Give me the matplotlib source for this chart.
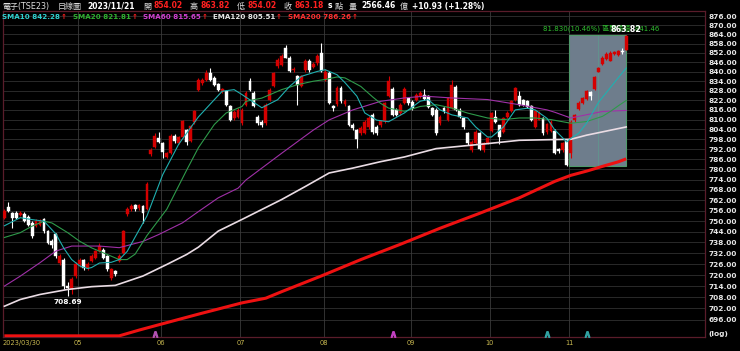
import numpy as np
import matplotlib.pyplot as plt
from matplotlib.patches import Rectangle
from matplotlib.ticker import FixedLocator, NullLocator, FixedFormatter

# daily candles 2023/03/30 .. 2023/11/21 (trading-day index)
opens = [752.0, 757.9, 754.8, 754.8, 753.8, 754.2, 752.6, 749.1, 747.2, 748.1,
         751.0, 744.3, 739.1, 742.5, 726.6, 728.5, 714.0, 712.2, 719.4, 725.8,
         728.1, 724.0, 727.7, 729.6, 733.1, 734.0, 730.3, 718.6, 722.2, 727.7,
         732.2, 754.1, 757.0, 759.0, 757.5, 758.5, 757.0, 789.3, 793.3, 798.6,
         795.6, 787.4, 789.6, 799.9, 795.8, 799.6, 803.6, 797.0, 808.4, 828.4,
         832.7, 834.8, 839.4, 836.0, 832.2, 827.7, 827.6, 818.1, 811.0, 811.8,
         808.0, 819.3, 833.8, 826.8, 811.8, 808.8, 807.8, 822.2, 830.7, 843.5,
         844.2, 855.2, 849.0, 840.8, 837.0, 831.2, 840.8, 846.9, 843.1, 845.2,
         851.7, 834.8, 839.3, 818.1, 819.4, 829.6, 819.4, 818.1, 806.9, 803.6,
         801.6, 801.6, 805.4, 812.9, 805.5, 806.4, 809.0, 824.5, 829.3, 816.0,
         814.0, 820.2, 823.2, 821.0, 822.2, 824.5, 825.5, 824.5, 817.0, 816.0,
         807.8, 817.0, 809.8, 817.0, 830.4, 816.0, 810.8, 801.6, 791.4, 795.5,
         801.6, 791.4, 795.5, 803.2, 811.8, 806.4, 802.6, 811.8, 815.0, 822.2,
         824.5, 822.2, 821.3, 818.1, 805.5, 810.0, 810.8, 802.2, 803.0, 803.0,
         792.3, 791.4, 797.0, 789.8, 809.6, 816.5, 820.2, 822.8, 827.0, 829.3,
         840.0, 845.0, 848.0, 847.0, 851.0, 850.5, 853.5, 854.02]
highs = [757.0, 760.8, 755.5, 756.0, 756.0, 755.0, 753.5, 750.0, 751.0, 751.5,
         752.0, 745.0, 740.0, 743.5, 731.5, 729.5, 716.0, 719.0, 727.0, 729.5,
         729.0, 727.0, 731.5, 734.0, 737.5, 735.0, 731.0, 724.0, 723.0, 731.5,
         745.0, 758.0, 760.0, 760.0, 760.0, 759.5, 772.5, 792.5, 802.0, 802.6,
         796.5, 790.5, 801.0, 801.0, 800.0, 810.0, 804.5, 807.0, 816.0, 836.0,
         836.0, 841.0, 842.0, 837.0, 833.0, 829.5, 828.5, 819.0, 816.0, 817.0,
         817.0, 828.0, 836.0, 827.5, 813.0, 810.0, 820.0, 829.5, 840.0, 848.5,
         851.5, 857.0, 850.0, 843.0, 838.0, 838.0, 848.0, 848.0, 846.0, 851.0,
         858.6, 841.5, 840.5, 819.0, 831.0, 831.0, 822.5, 819.0, 808.0, 804.5,
         806.0, 809.5, 812.0, 814.0, 806.5, 810.0, 821.0, 837.0, 830.0, 817.0,
         820.0, 830.0, 824.0, 822.0, 826.5, 827.5, 829.0, 825.0, 818.0, 817.0,
         813.0, 818.0, 824.0, 834.7, 831.5, 817.0, 811.5, 802.5, 797.5, 803.5,
         802.5, 796.5, 799.5, 814.5, 816.0, 807.0, 811.5, 815.0, 822.0, 830.5,
         827.6, 823.0, 822.0, 819.0, 816.0, 815.0, 811.5, 808.0, 809.5, 804.0,
         793.0, 796.5, 798.0, 810.0, 813.5, 821.5, 824.0, 828.5, 828.0, 837.5,
         843.0, 850.0, 852.5, 853.0, 853.5, 854.0, 855.0, 863.82]
lows = [751.0, 755.0, 746.4, 751.0, 753.0, 749.5, 747.0, 740.5, 746.5, 747.5,
        743.5, 737.0, 735.0, 729.5, 725.5, 712.3, 708.69, 709.5, 718.5, 724.5,
        723.0, 723.0, 727.0, 729.0, 732.5, 729.0, 722.0, 717.5, 719.5, 727.0,
        731.5, 753.0, 756.0, 756.0, 756.5, 749.0, 756.5, 788.0, 792.5, 795.5,
        786.6, 786.5, 789.0, 796.0, 795.0, 799.0, 794.3, 796.5, 807.5, 827.5,
        831.5, 834.0, 834.0, 831.0, 827.5, 826.5, 818.5, 809.0, 810.0, 811.0,
        807.0, 818.5, 828.0, 817.5, 806.5, 805.5, 807.0, 821.5, 830.0, 842.5,
        843.5, 848.5, 839.5, 839.5, 819.3, 830.5, 840.0, 840.0, 842.0, 844.5,
        839.5, 834.0, 819.5, 815.5, 818.5, 820.5, 818.5, 806.0, 803.5, 792.6,
        800.5, 801.0, 804.5, 801.5, 800.5, 805.5, 808.0, 824.0, 812.0, 812.0,
        813.0, 819.5, 819.0, 816.0, 821.5, 823.5, 822.0, 817.0, 812.0, 800.5,
        807.0, 814.0, 809.0, 816.5, 815.0, 811.0, 804.5, 794.5, 790.5, 795.0,
        791.5, 790.5, 795.0, 802.5, 808.0, 794.9, 802.0, 811.0, 814.5, 821.5,
        818.5, 818.5, 817.0, 809.0, 805.0, 809.5, 800.5, 801.5, 802.5, 789.0,
        790.0, 790.5, 781.99, 787.0, 808.5, 816.0, 819.5, 822.0, 822.0, 828.5,
        839.5, 844.5, 847.5, 846.5, 850.5, 850.0, 851.0, 854.02]
closes = [755.8, 755.8, 752.0, 752.0, 754.8, 750.3, 748.1, 741.5, 750.0, 750.0,
          744.3, 737.8, 736.4, 730.3, 730.3, 714.0, 712.8, 717.6, 725.8, 728.5,
          724.0, 725.8, 730.4, 733.1, 736.0, 729.6, 723.1, 723.1, 720.4, 730.4,
          744.4, 756.8, 758.7, 757.0, 759.0, 754.7, 771.5, 791.4, 799.7, 796.3,
          790.3, 789.6, 799.9, 796.7, 799.1, 809.0, 796.3, 806.0, 815.2, 834.8,
          834.8, 839.4, 834.8, 831.6, 828.4, 828.7, 819.3, 809.8, 814.9, 816.0,
          816.0, 826.8, 828.6, 818.3, 807.8, 806.8, 819.0, 828.6, 839.2, 847.5,
          850.3, 849.0, 840.5, 841.8, 831.8, 837.2, 846.9, 840.8, 845.1, 849.8,
          840.1, 840.0, 820.3, 817.0, 829.6, 821.3, 821.3, 806.8, 804.7, 798.4,
          805.0, 808.8, 811.0, 802.6, 801.6, 809.2, 820.2, 833.8, 812.9, 812.9,
          819.2, 829.3, 820.2, 817.0, 825.5, 826.5, 822.5, 818.0, 813.0, 801.6,
          811.8, 815.0, 823.3, 831.5, 816.0, 811.8, 805.5, 795.5, 796.5, 802.5,
          792.4, 795.5, 798.5, 813.9, 808.8, 799.4, 810.8, 813.9, 821.3, 829.6,
          819.3, 819.3, 818.0, 809.8, 815.0, 813.9, 801.6, 807.2, 808.8, 789.6,
          791.0, 795.5, 782.5, 808.8, 812.6, 820.5, 823.3, 827.6, 824.4, 836.5,
          842.0, 849.0, 851.5, 852.0, 852.5, 853.0, 852.25, 863.18]

# moving averages (day index, value)
sma10_idx = [0, 4, 7, 10, 13, 15, 17, 19, 21, 22, 24, 27, 29, 31, 33, 36, 38, 40, 44, 49,
             53, 55, 58, 60, 65, 69, 72, 75, 79, 81, 84, 86, 89, 91, 94, 97, 101, 105, 107,
             110, 113, 117, 119, 122, 123, 126, 129, 132, 134, 137, 139, 142, 143, 145,
             147, 150, 154, 157]
sma10_val = [747.4, 752.0, 750.9, 750.0, 742.8, 734.8, 728.5, 725.0, 723.6, 724.1, 726.6,
             727.0, 728.5, 733.0, 741.0, 753.0, 765.0, 777.0, 795.0, 811.7, 822.3, 827.6,
             828.6, 825.5, 817.3, 822.3, 830.6, 837.0, 840.1, 841.2, 838.0, 833.0, 824.5,
             814.1, 809.7, 808.7, 814.1, 821.4, 822.4, 816.0, 812.9, 811.0, 805.5, 799.4,
             799.4, 805.5, 816.0, 817.0, 816.0, 810.8, 803.6, 796.4, 798.6, 801.6, 807.8,
             820.6, 833.0, 842.28]
sma20_idx = [0, 4, 7, 10, 12, 16, 19, 22, 26, 29, 31, 33, 36, 41, 46, 49, 53, 56, 60, 61,
             65, 70, 74, 78, 81, 84, 86, 90, 93, 95, 97, 101, 105, 109, 113, 117, 122, 126,
             130, 134, 138, 143, 147, 151, 153, 155, 157]
sma20_val = [740.8, 743.5, 747.2, 750.0, 749.0, 743.5, 738.7, 735.0, 731.3, 728.5, 728.5,
             731.5, 741.9, 756.8, 779.5, 793.0, 807.0, 814.1, 818.1, 821.3, 823.3, 828.6,
             831.7, 833.9, 835.0, 836.6, 836.0, 830.6, 824.0, 820.0, 817.1, 815.1, 818.1,
             819.2, 817.1, 814.0, 811.0, 810.0, 811.0, 811.0, 810.0, 807.8, 808.8, 812.0,
             815.0, 818.5, 821.81]
sma60_idx = [0, 4, 9, 13, 17, 24, 29, 35, 39, 45, 49, 54, 59, 61, 70, 78, 82, 88, 95, 101,
             106, 113, 122, 130, 137, 139, 143, 147, 151, 157]
sma60_val = [714.0, 719.4, 726.8, 733.2, 736.0, 736.0, 735.1, 738.6, 742.5, 749.1, 755.5,
             763.4, 769.0, 773.8, 789.6, 803.6, 809.8, 816.0, 821.3, 823.4, 824.5, 823.4,
             822.4, 819.2, 816.0, 814.5, 811.0, 813.0, 815.0, 815.65]
ema120_idx = [0, 4, 9, 16, 22, 28, 35, 41, 46, 49, 54, 60, 70, 76, 82, 88, 95, 101, 109,
              122, 130, 138, 143, 147, 151, 157]
ema120_val = [703.2, 706.8, 709.5, 712.2, 713.7, 714.4, 719.5, 725.8, 731.3, 735.4, 744.4,
              751.0, 762.4, 770.0, 777.9, 780.8, 784.6, 787.4, 792.4, 795.4, 797.4, 797.8,
              798.0, 800.5, 802.5, 805.51]
sma200_idx = [0, 29, 34, 39, 44, 49, 60, 66, 70, 80, 90, 100, 110, 120, 130, 139, 143, 147,
              151, 155, 157]
sma200_val = [687.6, 687.6, 690.6, 693.4, 696.2, 699.0, 705.0, 707.5, 711.0, 719.5, 728.5,
              737.0, 746.0, 754.5, 763.4, 773.0, 776.5, 779.0, 781.8, 784.5, 786.26]

month_starts = [0, 19, 40, 60, 81, 103, 123, 143]
month_labels = ['2023/03/30', '05', '06', '07', '08', '09', '10', '11']
price_ticks = list(range(696, 877, 6))

# range selection (box) and signal carets
sel_start, sel_end = 143, 157
sel_low, sel_high = 781.99, 863.82
signal_idx = [38, 98, 137, 147]
signal_col = ['#b050b0', '#c040c0', '#30a0a0', '#30a0a0']

fonts = ['DejaVu Sans', 'Noto Sans CJK TC']
plt.rcParams['font.family'] = fonts

W, H = 740, 351
fig = plt.figure(figsize=(W / 100, H / 100), dpi=100, facecolor='black')
ax = fig.add_axes([3 / W, 14 / H, 702 / W, 326.5 / H])
ax.set_facecolor('black')
ax.set_yscale('log')
ax.set_ylim(687.0, 879.8)
ax.set_xlim(-0.35, 176.9)

# grid
ax.yaxis.set_major_locator(FixedLocator(price_ticks))
ax.yaxis.set_major_formatter(FixedFormatter([f'{p:.2f}' for p in price_ticks]))
ax.yaxis.set_minor_locator(NullLocator())
ax.yaxis.tick_right()
ax.tick_params(axis='y', length=0, pad=2.3, labelsize=5.3, labelcolor='#e6e6e6')
for lab in ax.get_yticklabels():
    lab.set_fontweight('bold')
ax.set_xticks([])
ax.grid(axis='y', color='#303030', lw=0.6)
ax.set_axisbelow(True)
for m in month_starts[1:]:
    ax.axvline(m - 0.4, color='#3a3a3a', lw=0.6, zorder=0.6)
for s in ax.spines.values():
    s.set_color('#5a1c2a')
    s.set_linewidth(0.9)

# selection box
ax.add_patch(Rectangle((sel_start - 0.5, sel_low), sel_end - sel_start + 0.5, sel_high - sel_low,
                       facecolor='#6e7d8c', edgecolor='#4f9a6a', lw=0.8, zorder=1))
ax.vlines(150, sel_low, sel_high, color='#5e9a8e', lw=0.5, zorder=1.1)

# candles
x = np.arange(len(closes))
o = np.array(opens); c = np.array(closes); hi = np.array(highs); lo = np.array(lows)
up = c >= o
for mask, col in [(up, '#d40000'), (~up, '#ffffff')]:
    ax.vlines(x[mask], lo[mask], hi[mask], color=col, lw=0.8, zorder=3)
    bottom = np.minimum(o, c)[mask]
    height = np.maximum(np.abs(c - o)[mask], 0.35)
    ax.bar(x[mask], height, bottom=bottom, width=0.72, color=col, edgecolor=col,
           lw=0.3, zorder=3)

# moving averages
ax.plot(sma200_idx, sma200_val, color='#ee1111', lw=2.2, zorder=4, solid_capstyle='butt')
ax.plot(ema120_idx, ema120_val, color='#eadce4', lw=1.2, zorder=4)
ax.plot(sma60_idx, sma60_val, color='#a030a8', lw=0.8, zorder=4)
ax.plot(sma20_idx, sma20_val, color='#2e9a4a', lw=0.8, zorder=4)
ax.plot(sma10_idx, sma10_val, color='#1fb0b0', lw=0.8, zorder=4)

for i, col in zip(signal_idx, signal_col):
    ax.plot(i, 688.6, marker=r'$\wedge$', color=col, ms=4, zorder=5)

# annotations
lo_i = int(np.argmin(lo))
ax.annotate(f'{lo[lo_i]:.2f}', (lo_i, lo[lo_i]), xytext=(0, -2), textcoords='offset points',
            ha='center', va='top', color='white', fontsize=5.3, fontweight='bold', zorder=6)
chg = sel_high - sel_low
ax.text(136, 868.0, f'{chg:.3f}({chg / sel_low * 100:.2f}%) 區間漲幅: 841.46',
        color='#30c030', fontsize=5.0, ha='left', va='center', zorder=6)
ax.annotate(f'{sel_high:.2f}', (sel_end, sel_high), xytext=(0, 0.5), textcoords='offset points',
            ha='center', va='bottom', color='white', fontsize=5.8, fontweight='bold', zorder=7)

# x labels
tr = ax.get_xaxis_transform()
for m, lab in zip(month_starts, month_labels):
    xm, ha = (-0.35, 'left') if m == 0 else (m - 0.4, 'center')
    ax.text(xm, -0.019, lab, transform=tr, ha=ha, va='center',
            color='#c8b850', fontsize=4.8, clip_on=False)
fig.text(708 / W, 1 - 334 / H, '(log)', color='#e6e6e6', fontsize=5.3, fontweight='bold',
         va='center', ha='left')

# header line
def ftext(px, s, col, bold=True, size=5.5, y=6):
    fig.text(px / W, 1 - y / H, s, color=col, fontsize=size,
             fontweight='bold' if bold else 'normal', va='center', ha='left')

grey = '#dddddd'
ftext(2, '電子(TSE23)', grey, bold=False, size=5.8)
ftext(58, '日線圖', grey, bold=False, size=5.8)
ftext(87, '2023/11/21', 'white')
ftext(143, '開', grey, bold=False, size=5.8)
ftext(153.5, f'{opens[-1]:.2f}', '#ff2020')
ftext(190, '高', grey, bold=False, size=5.8)
ftext(200.5, f'{highs[-1]:.2f}', '#ff2020')
ftext(237, '低', grey, bold=False, size=5.8)
ftext(247.5, f'{lows[-1]:.2f}', '#ff2020')
ftext(284, '收', grey, bold=False, size=5.8)
ftext(294.5, f'{closes[-1]:.2f}', '#ff2020')
ftext(328, 's', 'white')
ftext(335, '點', grey, bold=False, size=5.8)
ftext(349, '量', grey, bold=False, size=5.8)
ftext(361.5, '2566.46', 'white')
ftext(400, '億', grey, bold=False, size=5.8)
diff = closes[-1] - closes[-2]
ftext(412, f'+{diff:.2f} (+{diff / closes[-2] * 100:.2f}%)', 'white')

legend = [('SMA10', sma10_val[-1], '#30d0d0', 2), ('SMA20', sma20_val[-1], '#30b030', 73),
          ('SMA60', sma60_val[-1], '#d040d0', 143), ('EMA120', ema120_val[-1], '#e6e6e6', 213),
          ('SMA200', sma200_val[-1], '#ff3030', 288)]
fig.canvas.draw()
rend = fig.canvas.get_renderer()
for name, val, col, px in legend:
    t = fig.text(px / W, 1 - 17 / H, f'{name} {val:.2f}', color=col, fontsize=5.1,
                 fontweight='bold', va='center', ha='left')
    bb = t.get_window_extent(renderer=rend)
    fig.text((bb.x1 + 0.5) / W, 1 - 17 / H, '↑', color='#ff2020', fontsize=5.1,
             fontweight='bold', va='center', ha='left')

fig.savefig('out.png', dpi=100, facecolor='black')
